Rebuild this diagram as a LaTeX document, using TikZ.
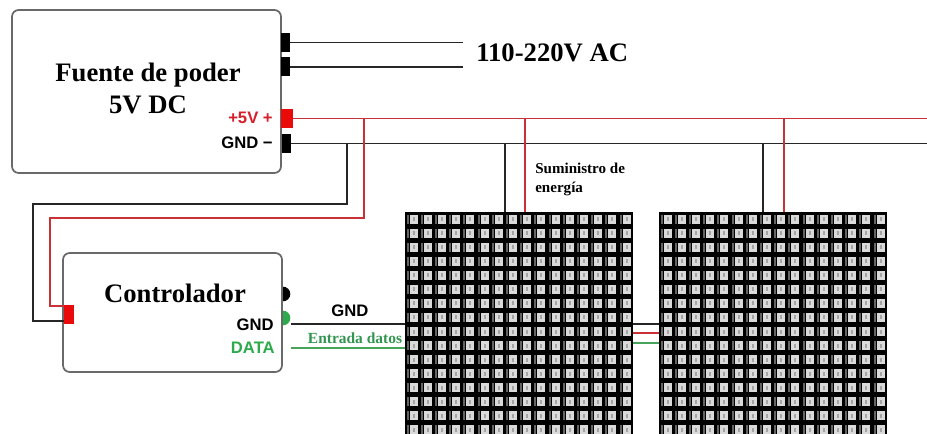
\documentclass[tikz,border=0pt]{standalone}
\usepackage{fontspec}
\setmainfont{Liberation Serif}
\setsansfont{Liberation Sans}
\definecolor{wirered}{RGB}{200,50,55}
\definecolor{pinred}{RGB}{235,10,10}
\definecolor{labelred}{RGB}{215,30,45}
\definecolor{datagreen}{RGB}{45,170,75}
\definecolor{wiregreen}{RGB}{70,165,90}
\definecolor{notegreen}{RGB}{50,150,80}
\definecolor{boxgray}{RGB}{105,105,105}
\definecolor{ledgray}{RGB}{218,218,218}
\definecolor{ledcore}{RGB}{165,165,165}
\definecolor{ledbar}{RGB}{100,100,100}

\begin{document}
\begin{tikzpicture}[x=0.75pt,y=-0.75pt,
  unit/.style={draw=boxgray,line width=1.3pt,fill=white,rounded corners=5pt,inner sep=0pt},
  pin/.style={fill=black,inner sep=0pt,minimum width=6.75pt,minimum height=14.25pt},
  redpin/.style={pin,fill=pinred},
  blackwire/.style={draw=black!85,line width=1.4pt},
  redwire/.style={draw=wirered,line width=1.4pt},
  greenwire/.style={draw=wiregreen,line width=1.4pt},
  title/.style={font=\fontsize{20}{24}\selectfont\bfseries,align=center,inner sep=0pt},
  note/.style={font=\fontsize{11.3}{14.25}\selectfont\bfseries,align=left,inner sep=0pt},
  pinlabel/.style={font=\sffamily\bfseries\fontsize{12.5}{14}\selectfont,inner sep=0pt},
  panel/.style={fill=black,inner sep=0pt,minimum width=171pt,minimum height=166.5pt},
  jack/.style={circle,inner sep=0pt,minimum size=11pt}
]
\useasboundingbox (0,0) rectangle (927,434);

% ---------- LED matrix panels ----------
\node[panel] (p1) at (519,323) {};
\node[panel] (p2) at (773,323) {};
\foreach \x in {405,659} {
  \foreach \i in {0,...,15} {
    \foreach \j in {0,...,15} {
      \fill[ledbar] (\x+1.5+\i*14.2, 215+\j*14) rectangle ++(2,9);
      \fill[ledgray] (\x+4.5+\i*14.2, 215+\j*14) rectangle ++(8,9);
      \fill[ledcore] (\x+7.5+\i*14.2, 217.5+\j*14) rectangle ++(2,4);
    }
  }
}

% ---------- power supply ----------
\node[unit,minimum width=201.75pt,minimum height=122.25pt] (psu) at (146.5,91.5) {};
\node[title] (psutitle) at (148,88) {Fuente de poder\\5V DC};
\node[pin] (acA) at (285.5,42.5) {};
\node[pin] (acB) at (285.5,67) {};
\node[redpin,minimum width=9pt] (vplus) at (287,118.5) {};
\node[pin] (gnd) at (286,143.5) {};
\node[pinlabel,text=labelred,anchor=east] (vlab) at (273,118) {+5V +};
\node[pinlabel,anchor=east] (glab) at (273,143) {GND −};

% mains input
\coordinate (acEndA) at (463,42.5);
\coordinate (acEndB) at (463,67);
\draw[blackwire] (acA.east) -- (acEndA);
\draw[blackwire] (acB.east) -- (acEndB);
\node[title,anchor=west] (ac) at (476,53) {110-220V AC};

% ---------- controller ----------
\node[jack,fill=black] (jk1) at (283,294) {};
\node[jack,fill=datagreen] (jk2) at (283,318) {};
\node[unit,minimum width=164.25pt,minimum height=89.25pt] (ctrl) at (172.5,312.5) {};
\node[title] (ctrltitle) at (175,293) {Controlador};
\node[pinlabel,anchor=east] (cg) at (274,325) {GND};
\node[pinlabel,anchor=east,text=datagreen] (cd) at (275,348) {DATA};
\node[redpin,minimum width=7.5pt] (cpin) at (69,314.5) {};

% ---------- 5V distribution bus ----------
\coordinate (redEnd) at (927,118.5);
\coordinate (gndEnd) at (927,143.5);
\coordinate (jr) at (364,118.5);
\coordinate (jg) at (347,143.5);
\coordinate (jr1) at (525,118.5);
\coordinate (jg1) at (505,143.5);
\coordinate (jr2) at (784,118.5);
\coordinate (jg2) at (763,143.5);

\draw[redwire] (vplus.east) -- (redEnd);
\draw[blackwire] (gnd.east) -- (gndEnd);

% feed to the controller
\draw[blackwire] (jg) |- (33,204) |- (cpin.west |- 0,321);
\draw[redwire] (jr) |- (50,218) |- (cpin.west |- 0,306);

% feeds to the panels
\draw[blackwire] (jg1) -- (jg1 |- p1.north);
\draw[redwire] (jr1) -- (jr1 |- p1.north);
\draw[blackwire] (jg2) -- (jg2 |- p2.north);
\draw[redwire] (jr2) -- (jr2 |- p2.north);
\node[note,anchor=north west] (supply) at (535,163) {Suministro de\\energía};

% ---------- signal lines ----------
\draw[blackwire] (jk2.east |- 0,324) -- (p1.west |- 0,324);
\draw[greenwire] (jk2.east |- 0,348) -- (p1.west |- 0,348);
\node[pinlabel] (gl) at (350,311) {GND};
\node[note,text=notegreen,font=\fontsize{11.6}{14}\selectfont\bfseries] (dl) at (355,338) {Entrada datos};

% panel to panel link
\draw[blackwire] (p1.east |- 0,324) -- (p2.west |- 0,324);
\draw[redwire,line width=1.8pt] (p1.east |- 0,333) -- (p2.west |- 0,333);
\draw[greenwire] (p1.east |- 0,343) -- (p2.west |- 0,343);
\end{tikzpicture}
\end{document}
